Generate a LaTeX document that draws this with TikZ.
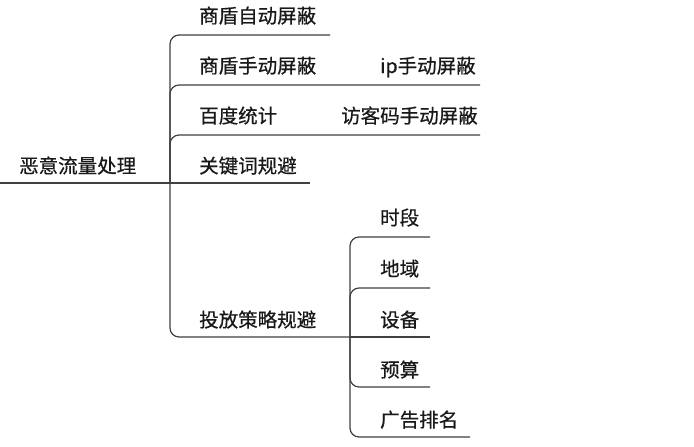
\documentclass[tikz,border=0pt]{standalone}
\usepackage{fontspec}
\newfontfamily\cjk[FakeBold=0.6]{Noto Sans CJK SC}
\begin{document}
\begin{tikzpicture}[x=1pt,y=-1pt,
  lbl/.style={font=\cjk\fontsize{19.5}{22}\selectfont,text=black!90,inner sep=0pt,anchor=base west},
  ln/.style={draw=black!75,line width=1.2pt,rounded corners=9pt}]
\useasboundingbox (0,0) rectangle (694,447);
\fill[white] (0,0) rectangle (694,447);
% root
\coordinate (r0) at (0,183);
\coordinate (r1) at (170,183);
\node[lbl] (root) at (19,173) {恶意流量处理};
\draw[ln] (r0) -- (r1);
% level 1
\coordinate (a) at (330,35);
\coordinate (b) at (480,85);
\coordinate (c) at (480,135);
\coordinate (d) at (310,183);
\coordinate (e) at (350,337);
\node[lbl] (na) at (199,23) {商盾自动屏蔽};
\node[lbl] (nb) at (199,73) {商盾手动屏蔽};
\node[lbl] (nb2) at (380,73) {ip手动屏蔽};
\node[lbl] (nc) at (199,123) {百度统计};
\node[lbl] (nc2) at (341,123) {访客码手动屏蔽};
\node[lbl] (nd) at (199,173) {关键词规避};
\node[lbl] (ne) at (199,327) {投放策略规避};
\foreach \t in {a,b,c} \draw[ln] (r1) |- (\t);
\draw[ln] (r1) -- (d);
\draw[ln] (r1) |- (e);
% level 2
\coordinate (f) at (430,237);
\coordinate (g) at (430,288);
\coordinate (h) at (430,337);
\coordinate (i) at (430,387);
\coordinate (j) at (470,437);
\node[lbl] (nf) at (380,225) {时段};
\node[lbl] (ng) at (380,276) {地域};
\node[lbl] (nh) at (380,327) {设备};
\node[lbl] (ni) at (380,377) {预算};
\node[lbl] (nj) at (380,427) {广告排名};
\draw[ln] (e) |- (f);
\draw[ln] (e) |- (g);
\draw[ln] (e) -- (h);
\draw[ln] (e) |- (i);
\draw[ln] (e) |- (j);
\end{tikzpicture}
\end{document}
